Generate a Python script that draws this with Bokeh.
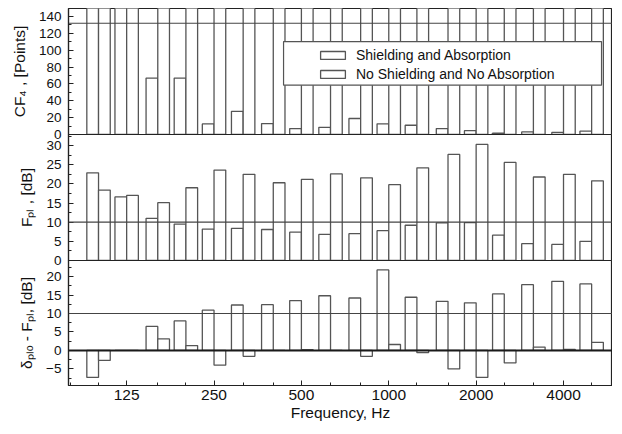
import numpy as np
from bokeh.plotting import figure
from bokeh.layouts import column
from bokeh.models import (ColumnDataSource, FixedTicker, Span, BoxAnnotation,
                          Legend, LegendItem, Range1d)
from bokeh.embed import file_html
from bokeh.resources import INLINE

# ---------------- data ----------------
freqs = [100, 125, 160, 200, 250, 315, 400, 500, 630, 800, 1000, 1250,
         1600, 2000, 2500, 3150, 4000, 5000]
tick_freqs = [125, 250, 500, 1000, 2000, 4000]
tick_labels = ["125", "250", "500", "1000", "2000", "4000"]

series_names = ["Shielding and Absorption", "No Shielding and No Absorption"]

cf4_shield = [160, 160, 67, 67, 12.5, 27.5, 13, 7, 8.5, 19, 12.7, 11,
              7, 4.5, 1.5, 3, 2.5, 4]
cf4_noshield = [160, 160, 160, 160, 160, 160, 160, 160, 160, 160, 160, 160,
                160, 160, 160, 160, 160, 160]

fpl_shield = [22.9, 16.6, 11.0, 9.5, 8.2, 8.4, 8.1, 7.4, 6.8, 7.0, 7.8, 9.2,
              9.8, 9.9, 6.6, 4.4, 4.2, 5.0]
fpl_noshield = [18.4, 17.0, 15.1, 19.0, 23.6, 22.5, 20.3, 21.2, 22.6, 21.6,
                19.8, 24.2, 27.7, 30.3, 25.6, 21.8, 22.5, 20.8]

diff_shield = [-7.3, 0.0, 6.5, 8.0, 10.9, 12.3, 12.4, 13.5, 14.8, 14.2, 21.8,
               14.4, 13.3, 12.9, 15.3, 17.8, 18.7, 18.0]
diff_noshield = [-2.7, 0.0, 3.1, 1.3, -4.0, -1.6, 0.0, 0.2, 0.0, -1.6, 1.6,
                 -0.6, -5.0, -7.3, -3.4, 0.9, 0.3, 2.2]

cf4_threshold = 132
db_threshold = 10

# ---------------- style ----------------
FONT = "Liberation Sans"
BAR_LINE = "#555555"
AXIS_COL = "#222222"
TXT = "#111111"
BAR_OCT = 0.134  # bar width in octaves
OVER = 9         # px by which a panel's canvas reaches under the next one

f = np.array(freqs, dtype=float)
left_a = f * 2 ** (-BAR_OCT)
right_b = f * 2 ** (BAR_OCT)

X0, X1 = 78.8, 5900
x_range = Range1d(X0, X1)

W = 612
LEFT = 68


def make_fig(height, top_border, bottom_border, ylo, yhi, ticks, minors,
             ylabel, show_x=False, overlap_prev=False):
    kw = {}
    if overlap_prev:
        kw["styles"] = {"margin-top": "-%dpx" % OVER}
    p = figure(width=W, height=height, x_axis_type="log", x_range=x_range,
               y_range=Range1d(ylo, yhi), output_backend="svg",
               toolbar_location=None,
               x_axis_location="below" if show_x else None,
               min_border=0, **kw)
    p.min_border_left = LEFT
    p.min_border_right = 0
    p.min_border_top = top_border
    p.min_border_bottom = bottom_border
    p.grid.visible = False
    p.outline_line_color = AXIS_COL
    p.outline_line_width = 1.2
    p.background_fill_color = "white"
    if overlap_prev:
        p.border_fill_alpha = 0
    else:
        p.border_fill_color = "white"
    ya = p.yaxis[0]
    ya.ticker = FixedTicker(ticks=ticks, minor_ticks=minors)
    ya.axis_label = ylabel
    ya.axis_label_text_font = FONT
    ya.axis_label_text_font_style = "normal"
    ya.axis_label_text_font_size = "15.5px"
    ya.axis_label_text_color = TXT
    ya.axis_label_standoff = 8
    ya.major_label_text_font = FONT
    ya.major_label_text_font_size = "13.5px"
    ya.major_label_text_color = TXT
    ya.major_label_standoff = 7
    ya.major_tick_in = 5
    ya.major_tick_out = 0
    ya.minor_tick_in = 3
    ya.minor_tick_out = 0
    ya.axis_line_color = AXIS_COL
    ya.major_tick_line_color = AXIS_COL
    ya.minor_tick_line_color = AXIS_COL
    ya.axis_line_width = 1.2
    return p


def add_bars(p, vals_a, vals_b):
    src_a = ColumnDataSource(dict(left=left_a, right=f, bottom=np.zeros(len(f)),
                                  top=np.array(vals_a, dtype=float)))
    src_b = ColumnDataSource(dict(left=f, right=right_b, bottom=np.zeros(len(f)),
                                  top=np.array(vals_b, dtype=float)))
    ra = p.quad(left="left", right="right", bottom="bottom", top="top",
                source=src_a, fill_color="white", line_color=BAR_LINE,
                line_width=1.3)
    rb = p.quad(left="left", right="right", bottom="bottom", top="top",
                source=src_b, fill_color="white", line_color=BAR_LINE,
                line_width=1.3)
    return ra, rb


# ---------- top panel: CF4 ----------
p1 = make_fig(134 + OVER, 8, OVER, 0, 149.5, list(range(0, 141, 20)),
              list(range(10, 150, 20)), "CF\u2084 , [Points]")
ra, rb = add_bars(p1, cf4_shield, cf4_noshield)
p1.add_layout(Span(location=cf4_threshold, dimension="width",
                   line_color="#444444", line_width=1.2))

box = BoxAnnotation(left=434, right=5408, bottom=58.5, top=110.3,
                    fill_color="white", fill_alpha=1.0,
                    line_color="#555555", line_width=1.2, line_alpha=1.0)
p1.add_layout(box)
legend = Legend(items=[LegendItem(label=series_names[0], renderers=[ra]),
                       LegendItem(label=series_names[1], renderers=[rb])],
                location=(249, 52), padding=4, spacing=3, margin=0,
                glyph_width=31, glyph_height=10, label_standoff=8,
                label_height=15, label_text_font=FONT,
                label_text_font_size="14px", label_text_color=TXT,
                border_line_color=None, background_fill_alpha=0)
p1.add_layout(legend)

# ---------- middle panel: Fpl ----------
p2 = make_fig(126 + OVER, 0, OVER, 0, 32.9, list(range(0, 31, 5)),
              [2.5, 7.5, 12.5, 17.5, 22.5, 27.5, 32.5],
              "F\u209a\u2097 , [dB]", overlap_prev=True)
add_bars(p2, fpl_shield, fpl_noshield)
p2.add_layout(Span(location=db_threshold, dimension="width",
                   line_color="#444444", line_width=1.2))

# ---------- bottom panel: delta - Fpl ----------
p3 = make_fig(164, 0, 39, -9.5, 24.35, list(range(-5, 21, 5)),
              [-7.5, -2.5, 2.5, 7.5, 12.5, 17.5, 22.5],
              "\u03b4\u209a\u2097\u2092 - F\u209a\u2097, [dB]", show_x=True,
              overlap_prev=True)
add_bars(p3, diff_shield, diff_noshield)
p3.add_layout(Span(location=db_threshold, dimension="width",
                   line_color="#444444", line_width=1.2))
p3.add_layout(Span(location=0, dimension="width",
                   line_color="#1a1a1a", line_width=2))

xa = p3.xaxis[0]
xa.ticker = FixedTicker(ticks=tick_freqs, minor_ticks=[80] + freqs + [6300])
xa.major_label_overrides = {t: l for t, l in zip(tick_freqs, tick_labels)}
xa.axis_label = "Frequency, Hz"
xa.axis_label_text_font = FONT
xa.axis_label_text_font_style = "normal"
xa.axis_label_text_font_size = "15.5px"
xa.axis_label_text_color = TXT
xa.axis_label_standoff = 1
xa.major_label_text_font = FONT
xa.major_label_text_font_size = "15.5px"
xa.major_label_text_color = TXT
xa.major_label_standoff = 4
xa.major_tick_in = 5
xa.major_tick_out = 0
xa.minor_tick_in = 3
xa.minor_tick_out = 0
xa.axis_line_color = AXIS_COL
xa.major_tick_line_color = AXIS_COL
xa.minor_tick_line_color = AXIS_COL
xa.axis_line_width = 1.2

layout = column(p1, p2, p3, spacing=0)
open("out.html", "w").write(file_html(layout, INLINE))
